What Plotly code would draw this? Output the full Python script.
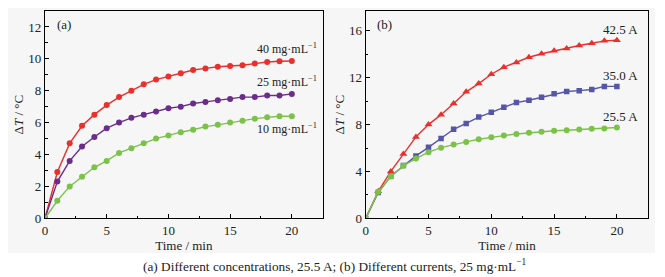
import plotly.graph_objects as go

time = list(range(0, 21))

# Panel (a): different concentrations, 25.5 A
conc_labels = ["40 mg·mL<sup>−1</sup>", "25 mg·mL<sup>−1</sup>", "10 mg·mL<sup>−1</sup>"]
c40 = [0, 2.9, 4.7, 5.8, 6.5, 7.1, 7.6, 8.0, 8.4, 8.7, 8.9, 9.1, 9.3, 9.4, 9.5, 9.55, 9.6, 9.7, 9.8, 9.85, 9.86]
c25 = [0, 2.3, 3.6, 4.5, 5.1, 5.65, 6.0, 6.3, 6.5, 6.7, 6.9, 7.0, 7.2, 7.3, 7.4, 7.48, 7.6, 7.6, 7.7, 7.7, 7.8]
c10 = [0, 1.1, 2.0, 2.6, 3.2, 3.6, 4.1, 4.4, 4.7, 5.0, 5.2, 5.4, 5.55, 5.75, 5.86, 6.0, 6.12, 6.25, 6.33, 6.4, 6.4]

# Panel (b): different currents, 25 mg/mL
cur_labels = ["42.5 A", "35.0 A", "25.5 A"]
i425 = [0, 2.3, 4.0, 5.5, 6.95, 8.0, 8.85, 9.8, 10.8, 11.5, 12.3, 12.9, 13.3, 13.75, 14.05, 14.3, 14.5, 14.75, 14.95, 15.15, 15.2]
i350 = [0, 2.2, 3.6, 4.5, 5.33, 6.06, 6.82, 7.6, 8.1, 8.64, 9.05, 9.48, 9.88, 10.08, 10.34, 10.63, 10.83, 10.9, 11.0, 11.26, 11.26]
i255 = [0, 2.26, 3.57, 4.49, 5.1, 5.65, 6.03, 6.3, 6.52, 6.75, 6.93, 7.06, 7.2, 7.3, 7.38, 7.47, 7.52, 7.58, 7.64, 7.67, 7.75]

RED = "#e8302c"
PURPLE = "#6b2d8c"
GREEN = "#7cc24a"
BLUE = "#5656a8"
FONT = "Liberation Serif"
BG = "#f6f6f6"

# the page body has an 8px margin: size the figure to fit the window
OFF = 8
W, H = 665 - OFF, 277 - OFF

def px(x):
    return (x - OFF) / W

def py(y):
    return 1 - (y - OFF) / H

fig = go.Figure()

def add(xax, yax, y, color, symbol, size):
    fig.add_trace(go.Scatter(
        x=time, y=y, mode="lines+markers", xaxis=xax, yaxis=yax,
        line=dict(color=color, width=1.4),
        marker=dict(color=color, symbol=symbol, size=size, line=dict(width=0)),
        showlegend=False, hoverinfo="skip"))

add("x", "y", c40, RED, "circle", 6)
add("x", "y", c25, PURPLE, "circle", 6)
add("x", "y", c10, GREEN, "circle", 6)
add("x2", "y2", i425, RED, "triangle-up", 7)
add("x2", "y2", i350, BLUE, "square", 5.5)
add("x2", "y2", i255, GREEN, "circle", 6)

axis_common = dict(
    showline=True, linecolor="black", linewidth=1.3, mirror=True,
    ticks="inside", ticklen=4, tickwidth=1, tickcolor="black",
    showgrid=False, zeroline=False, automargin=False,
    tickfont=dict(family=FONT, size=13, color="#222"),
)
minor = dict(ticks="inside", ticklen=2.5, tickwidth=1, tickcolor="black", showgrid=False)

ydom = [py(218.3), py(11)]

fig.update_layout(
    width=W, height=H,
    margin=dict(l=0, r=0, t=0, b=0, autoexpand=False),
    paper_bgcolor="white", plot_bgcolor=BG,
    font=dict(family=FONT, size=12, color="#222"),
    xaxis=dict(domain=[px(45), px(322.7)], range=[0, 22.5], dtick=5, tick0=0,
               minor=dict(dtick=2.5, **minor),
               title=dict(text="Time / min", font=dict(family=FONT, size=13), standoff=0),
               anchor="y", **axis_common),
    yaxis=dict(domain=ydom, range=[0, 13], dtick=2, tick0=0,
               minor=dict(dtick=1, **minor),
               title=dict(text="Δ<i>T</i> / °C", font=dict(family=FONT, size=13), standoff=1),
               anchor="x", **axis_common),
    xaxis2=dict(domain=[px(365.7), px(648.3)], range=[0, 22.5], dtick=5, tick0=0,
                minor=dict(dtick=2.5, **minor),
                title=dict(text="Time / min", font=dict(family=FONT, size=13), standoff=0),
                anchor="y2", **axis_common),
    yaxis2=dict(domain=ydom, range=[0, 17.7], dtick=4, tick0=0,
                minor=dict(dtick=2, **minor),
                title=dict(text="Δ<i>T</i> / °C", font=dict(family=FONT, size=13), standoff=1),
                anchor="x2", **axis_common),
)

# light grey figure backdrop
fig.add_shape(type="rect", xref="paper", yref="paper", layer="below",
              x0=px(8), x1=px(655), y0=py(253), y1=1.0,
              fillcolor=BG, line=dict(width=0))

def ann(text, x, y, xanchor="center", size=12):
    fig.add_annotation(text=text, xref="paper", yref="paper", x=px(x), y=py(y),
                       xanchor=xanchor, yanchor="middle", showarrow=False,
                       font=dict(family=FONT, size=size, color="#222"))

ann("(a)", 55, 25, "left", 13)
ann("(b)", 375, 25, "left", 13)
ann(conc_labels[0], 287, 48)
ann(conc_labels[1], 287, 81)
ann(conc_labels[2], 287, 128)
ann(cur_labels[0], 620, 29, size=13)
ann(cur_labels[1], 620, 75, size=13)
ann(cur_labels[2], 620, 117, size=13)
ann("(a) Different concentrations, 25.5 A; (b) Different currents, 25 mg·mL<sup>−1</sup>", 334, 265, size=13.3)

fig.write_html("out.html")
